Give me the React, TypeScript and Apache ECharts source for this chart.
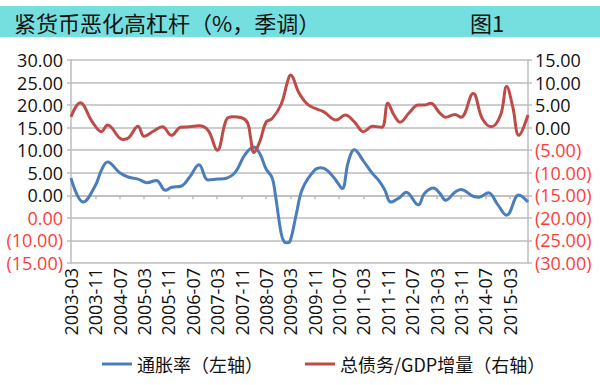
import React, { useEffect, useRef } from "react";
import * as echarts from "echarts";

const TITLE = "紧货币恶化高杠杆（%，季调）";
const FIG = "图1";
const SERIES_NAMES = ["通胀率（左轴）", "总债务/GDP增量（右轴）"];

// monthly categories 2003-03 .. 2015-09
const START_YEAR = 2003;
const START_MONTH = 3;
const MONTH_COUNT = 151;
const months: string[] = [];
for (let i = 0; i < MONTH_COUNT; i++) {
  const t = START_MONTH - 1 + i;
  const y = START_YEAR + Math.floor(t / 12);
  const m = (t % 12) + 1;
  months.push(`${y}-${m < 10 ? "0" + m : m}`);
}

// 通胀率 (left axis)
const inflation: [string, number][] = [
  ["2003-03", 3.8], ["2003-07", -1.5], ["2003-11", 2.2], ["2004-01", 5.6], ["2004-03", 7.4],
  ["2004-07", 5.0], ["2004-10", 4.0], ["2005-01", 3.6], ["2005-04", 2.8], ["2005-07", 3.3],
  ["2005-10", 1.1], ["2005-12", 1.8], ["2006-03", 2.0], ["2006-06", 4.1], ["2006-09", 6.8],
  ["2006-12", 3.4], ["2007-03", 3.6], ["2007-06", 3.8], ["2007-09", 5.2], ["2007-12", 8.9],
  ["2008-03", 10.7], ["2008-05", 9.2], ["2008-07", 5.9], ["2008-09", 3.9], ["2008-10", 0.5],
  ["2008-12", -8.5], ["2009-01", -10.3], ["2009-02", -10.5], ["2009-03", -10.0], ["2009-05", -4.0],
  ["2009-07", 1.5], ["2009-11", 5.6], ["2010-01", 6.1], ["2010-03", 5.6], ["2010-06", 3.3],
  ["2010-08", 1.5], ["2010-10", 7.4], ["2010-12", 10.1], ["2011-03", 7.6], ["2011-06", 4.8],
  ["2011-08", 3.3], ["2011-10", 1.2], ["2011-12", -1.5], ["2012-03", -0.4], ["2012-05", 0.7],
  ["2012-09", -2.1], ["2012-11", 0.4], ["2013-02", 1.6], ["2013-04", 0.5], ["2013-06", -1.1],
  ["2013-09", 0.7], ["2013-11", 1.3], ["2014-03", -0.2], ["2014-05", -0.4], ["2014-08", 0.6],
  ["2014-11", -2.0], ["2015-02", -4.4], ["2015-06", 0.1], ["2015-09", -1.5],
];

// 总债务/GDP增量 (right axis)
const debtToGdp: [string, number][] = [
  ["2003-03", 2.4], ["2003-06", 5.5], ["2003-10", 1.3], ["2004-01", -0.9], ["2004-03", 0.6],
  ["2004-08", -2.6], ["2004-10", -2.2], ["2005-01", 0.3], ["2005-03", -1.9], ["2005-06", -0.8],
  ["2005-09", 0.2], ["2005-12", -1.7], ["2006-03", 0.1], ["2006-06", 0.2], ["2006-09", 0.4],
  ["2006-12", -0.6], ["2007-03", -5.0], ["2007-06", 1.8], ["2007-08", 2.4], ["2007-11", 2.2],
  ["2008-01", 1.0], ["2008-02", -2.5], ["2008-03", -5.5], ["2008-05", -3.0], ["2008-07", 1.2],
  ["2008-09", 2.0], ["2008-12", 5.2], ["2009-02", 10.0], ["2009-03", 11.7], ["2009-06", 7.5],
  ["2009-09", 5.0], ["2010-02", 3.5], ["2010-06", 1.7], ["2010-09", 2.8], ["2010-12", 1.3],
  ["2011-03", -0.9], ["2011-06", 0.3], ["2011-09", 0.1], ["2011-11", 5.4], ["2012-01", 2.8],
  ["2012-03", 1.2], ["2012-06", 3.3], ["2012-09", 5.0], ["2012-11", 5.0], ["2013-01", 5.4],
  ["2013-04", 3.3], ["2013-06", 2.3], ["2013-09", 2.9], ["2013-11", 2.3], ["2014-03", 7.6],
  ["2014-06", 2.0], ["2014-09", 0.2], ["2014-12", 2.8], ["2015-02", 9.1], ["2015-04", 4.6],
  ["2015-06", -1.7], ["2015-09", 2.8],
];

const LEFT_MIN = -15, LEFT_MAX = 30, RIGHT_MIN = -30, RIGHT_MAX = 15, STEP = 5;

const leftLabel = (v: number) => {
  if (v >= 0) return v.toFixed(2);
  if (v === -5) return "{r|0.00}";
  return `{r|(${Math.abs(v).toFixed(2)})}`;
};
const rightLabel = (v: number) => (v >= 0 ? v.toFixed(2) : `{r|(${Math.abs(v).toFixed(2)})}`);

const NUM_FONT = "'Open Sans', 'Noto Sans CJK SC', sans-serif";
const CJK_FONT = "'Noto Sans CJK SC', sans-serif";
const GRID_COLOR = "#bdbdbd";
const RED_TEXT = "#ff3b3b";
const AXIS_FS = 18;

export default function App() {
  const ref = useRef<HTMLDivElement>(null);
  useEffect(() => {
    if (!ref.current) return;
    const chart = echarts.init(ref.current, undefined, { renderer: "svg" });
    const rich = { r: { color: RED_TEXT, fontSize: AXIS_FS, fontFamily: NUM_FONT } };
    chart.setOption({
      animation: false,
      backgroundColor: "#ffffff",
      graphic: [
        { type: "rect", shape: { x: 0, y: 6, width: 600, height: 31 }, style: { fill: "#75dede" }, z: 0 },
        {
          type: "text", x: 14, y: 22,
          style: { text: TITLE, fontSize: 22, fontFamily: CJK_FONT, fill: "#111", verticalAlign: "middle" },
        },
        {
          type: "text", x: 470, y: 22,
          style: { text: FIG, fontSize: 22, fontFamily: CJK_FONT, fill: "#111", verticalAlign: "middle" },
        },
      ],
      legend: {
        bottom: 7,
        left: 97,
        itemGap: 42,
        itemWidth: 30,
        itemHeight: 3,
        icon: "rect",
        textStyle: { fontSize: 18, fontFamily: CJK_FONT, color: "#111" },
        data: SERIES_NAMES,
      },
      grid: { left: 71, right: 72, top: 60, bottom: 122, containLabel: false },
      xAxis: [
        {
          type: "category",
          data: months,
          boundaryGap: false,
          position: "bottom",
          axisLine: { show: false, onZero: false },
          axisTick: { show: false },
          axisLabel: {
            interval: 7,
            rotate: 90,
            margin: 5,
            fontSize: AXIS_FS,
            fontFamily: NUM_FONT,
            color: "#111",
          },
          splitLine: { show: false },
        },
        {
          type: "category",
          data: months,
          boundaryGap: false,
          position: "bottom",
          axisLine: { show: true, onZero: true, onZeroAxisIndex: 0, lineStyle: { color: GRID_COLOR, width: 1.5 } },
          axisTick: { show: true, interval: 7, length: 4, lineStyle: { color: GRID_COLOR, width: 1.5 } },
          axisLabel: { show: false },
          splitLine: { show: false },
        },
      ],
      yAxis: [
        {
          type: "value",
          min: LEFT_MIN,
          max: LEFT_MAX,
          interval: STEP,
          axisLine: { show: true, lineStyle: { color: GRID_COLOR, width: 1.5 } },
          axisTick: { show: true, length: 4, lineStyle: { color: GRID_COLOR, width: 1.5 } },
          axisLabel: { formatter: leftLabel, fontSize: AXIS_FS, fontFamily: NUM_FONT, color: "#111", margin: 8, rich },
          splitLine: { show: true, lineStyle: { color: GRID_COLOR, width: 1.5 } },
        },
        {
          type: "value",
          min: RIGHT_MIN,
          max: RIGHT_MAX,
          interval: STEP,
          position: "right",
          axisLine: { show: true, lineStyle: { color: GRID_COLOR, width: 1.5 } },
          axisTick: { show: true, length: 4, lineStyle: { color: GRID_COLOR, width: 1.5 } },
          axisLabel: { formatter: rightLabel, fontSize: AXIS_FS, fontFamily: NUM_FONT, color: "#111", margin: 7, rich },
          splitLine: { show: false },
        },
      ],
      series: [
        {
          name: SERIES_NAMES[0],
          type: "line",
          xAxisIndex: 0,
          yAxisIndex: 0,
          data: inflation,
          smooth: 0.4,
          showSymbol: false,
          symbol: "none",
          lineStyle: { color: "#4a7ebb", width: 3 },
          itemStyle: { color: "#4a7ebb" },
        },
        {
          name: SERIES_NAMES[1],
          type: "line",
          xAxisIndex: 0,
          yAxisIndex: 1,
          data: debtToGdp,
          smooth: 0.4,
          showSymbol: false,
          symbol: "none",
          lineStyle: { color: "#be4b48", width: 3 },
          itemStyle: { color: "#be4b48" },
        },
      ],
    });
    return () => chart.dispose();
  }, []);
  return (
    <div
      ref={ref}
      style={{ position: "fixed", left: 0, top: 0, width: 600, height: 385, background: "#fff" }}
    />
  );
}
